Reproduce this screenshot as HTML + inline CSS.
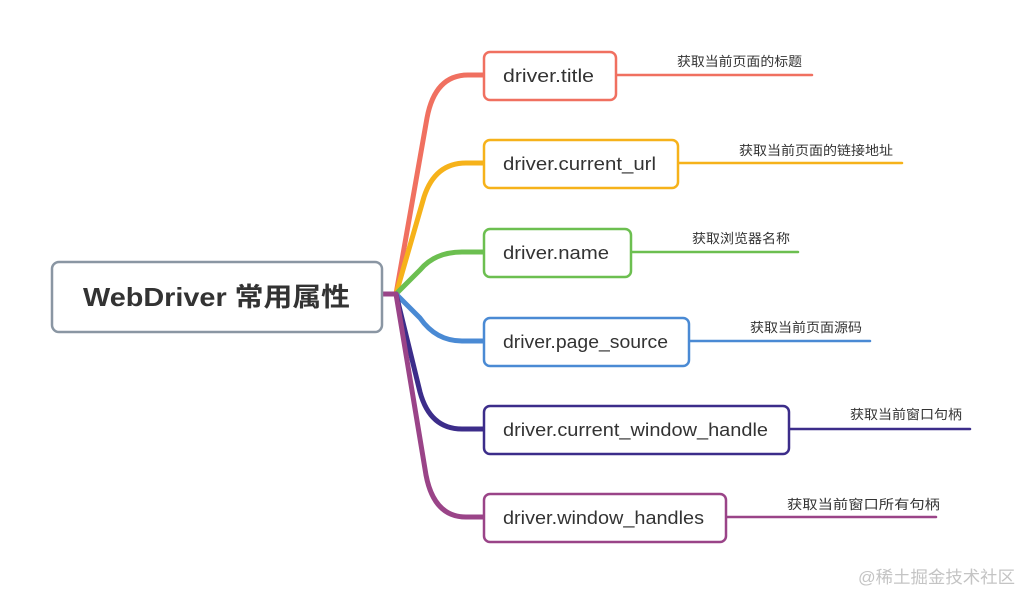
<!DOCTYPE html>
<html><head><meta charset="utf-8"><style>
html,body{margin:0;padding:0;background:#fff;width:1021px;height:593px;overflow:hidden}
svg text{font-family:"Liberation Sans","Noto Sans CJK SC",sans-serif}
</style></head><body>
<svg width="1021" height="593" viewBox="0 0 1021 593" xmlns="http://www.w3.org/2000/svg">
<g fill="none" stroke-linecap="round" stroke-linejoin="round">
<path d="M396,294 L427,118 Q435,75 468,75 L484,75" stroke="#f07060" stroke-width="5"/>
<path d="M396,294 L424,197 Q435,163 466,163 L484,163" stroke="#f6b21a" stroke-width="5"/>
<path d="M396,294 L420,270 Q435,252 462,252 L484,252" stroke="#6cbf50" stroke-width="5"/>
<path d="M396,294 L420,318 Q436,341 462,341 L484,341" stroke="#4a8ad4" stroke-width="5"/>
<path d="M396,294 L420,392 Q430,429 462,429 L484,429" stroke="#3c2d8a" stroke-width="5"/>
<path d="M383,294 L396,294 L426,475 Q434,517 466,517 L484,517" stroke="#9a4488" stroke-width="5"/>
<path d="M616,75 H812" stroke="#f07060" stroke-width="2.5"/>
<path d="M678,163 H902" stroke="#f6b21a" stroke-width="2.5"/>
<path d="M631,252 H798" stroke="#6cbf50" stroke-width="2.5"/>
<path d="M689,341 H870" stroke="#4a8ad4" stroke-width="2.5"/>
<path d="M789,429 H970" stroke="#3c2d8a" stroke-width="2.5"/>
<path d="M726,517 H936" stroke="#9a4488" stroke-width="2.5"/>
</g>
<rect x="52" y="262" width="330" height="70" rx="7" fill="#fff" stroke="#8a96a3" stroke-width="2.5"/>
<text x="83" y="306" textLength="267" lengthAdjust="spacingAndGlyphs" font-size="26" font-weight="bold" fill="#333">WebDriver 常用属性</text>
<g fill="#fff" stroke-width="2.5">
<rect x="484" y="52" width="132" height="48" rx="6" stroke="#f07060"/>
<rect x="484" y="140" width="194" height="48" rx="6" stroke="#f6b21a"/>
<rect x="484" y="229" width="147" height="48" rx="6" stroke="#6cbf50"/>
<rect x="484" y="318" width="205" height="48" rx="6" stroke="#4a8ad4"/>
<rect x="484" y="406" width="305" height="48" rx="6" stroke="#3c2d8a"/>
<rect x="484" y="494" width="242" height="48" rx="6" stroke="#9a4488"/>
</g>
<g font-size="18" fill="#333" lengthAdjust="spacingAndGlyphs">
<text x="503" y="82" textLength="91" lengthAdjust="spacingAndGlyphs">driver.title</text>
<text x="503" y="170" textLength="153" lengthAdjust="spacingAndGlyphs">driver.current_url</text>
<text x="503" y="259" textLength="106" lengthAdjust="spacingAndGlyphs">driver.name</text>
<text x="503" y="348" textLength="165" lengthAdjust="spacingAndGlyphs">driver.page_source</text>
<text x="503" y="436" textLength="265" lengthAdjust="spacingAndGlyphs">driver.current_window_handle</text>
<text x="503" y="524" textLength="201" lengthAdjust="spacingAndGlyphs">driver.window_handles</text>
</g>
<g font-size="13" fill="#333">
<text x="677" y="66" textLength="125" lengthAdjust="spacingAndGlyphs">获取当前页面的标题</text>
<text x="739" y="155" textLength="154" lengthAdjust="spacingAndGlyphs">获取当前页面的链接地址</text>
<text x="692" y="243" textLength="98" lengthAdjust="spacingAndGlyphs">获取浏览器名称</text>
<text x="750" y="332" textLength="112" lengthAdjust="spacingAndGlyphs">获取当前页面源码</text>
<text x="850" y="419" textLength="112" lengthAdjust="spacingAndGlyphs">获取当前窗口句柄</text>
<text x="787" y="509" textLength="153" lengthAdjust="spacingAndGlyphs">获取当前窗口所有句柄</text>
</g>
<text x="858" y="583" textLength="157" lengthAdjust="spacingAndGlyphs" font-size="17" fill="#c4c4c4">@稀土掘金技术社区</text>
</svg>
</body></html>
